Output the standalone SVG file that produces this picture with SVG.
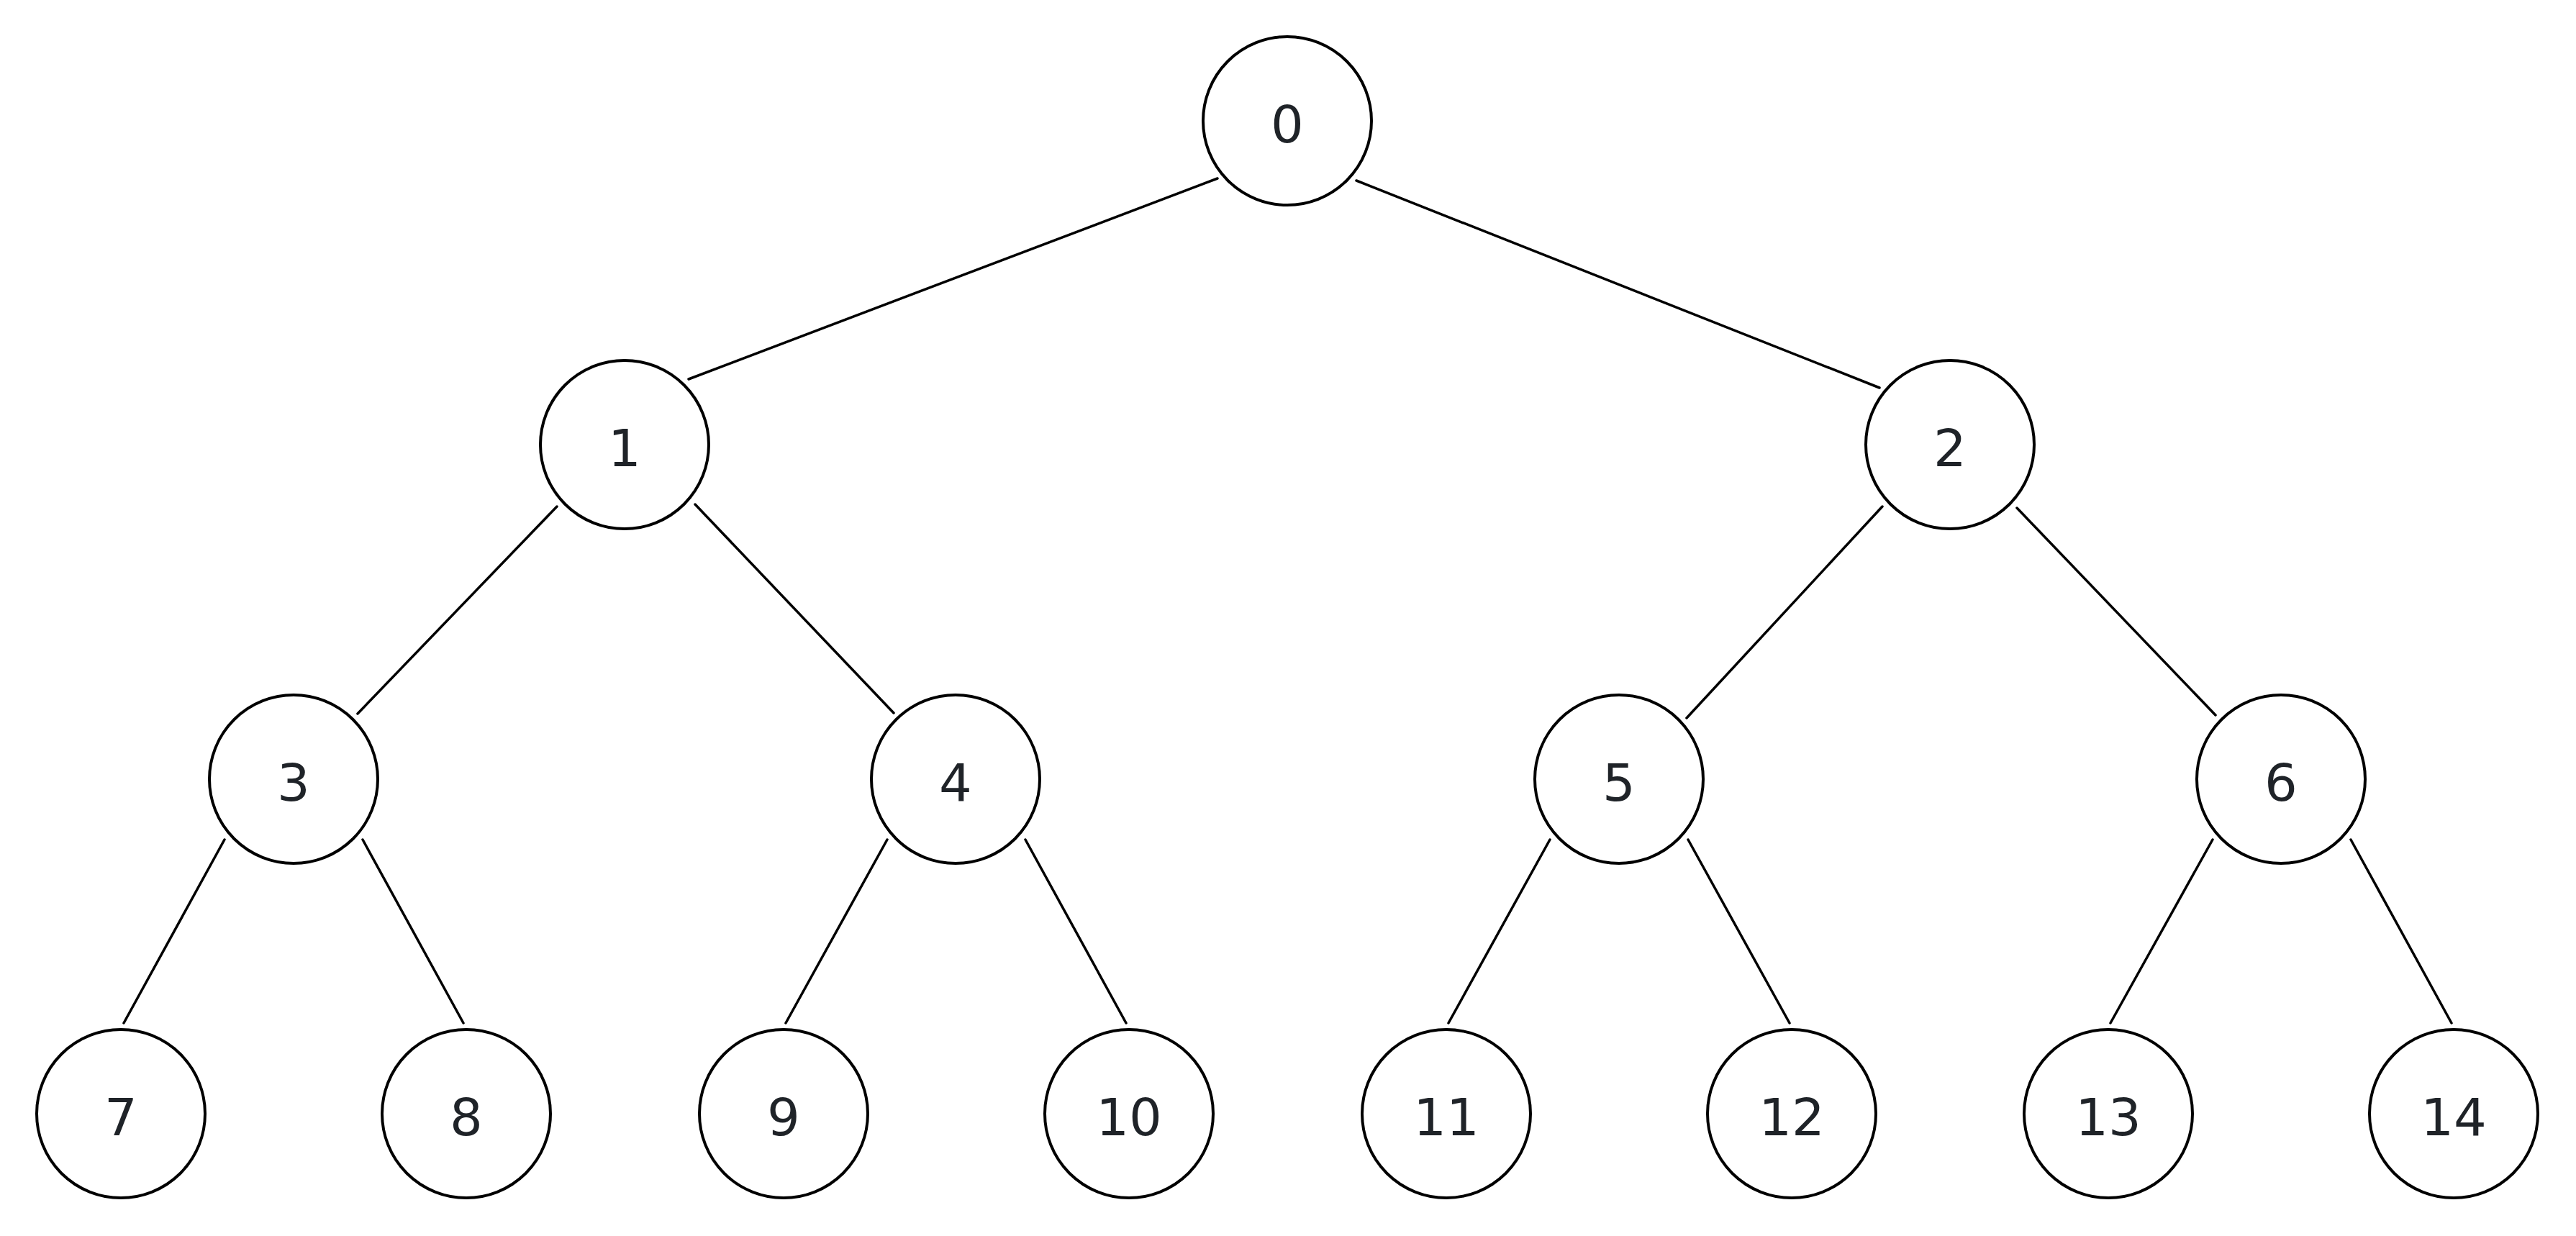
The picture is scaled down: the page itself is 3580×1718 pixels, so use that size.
<svg xmlns="http://www.w3.org/2000/svg" width="3580" height="1718" viewBox="0 0 3580 1718">
<style>
.node circle{fill:#ffffff;stroke:#000000;stroke-width:4}
.node text{font-family:"DejaVu Sans","Liberation Sans",sans-serif;font-size:72px;fill:#1f2328;text-anchor:middle}
.edges line{stroke:#000000;stroke-width:3.5;stroke-linecap:round}
</style>
<rect x="0" y="0" width="3580" height="1718" fill="#ffffff"/>
<g id="edges" class="edges">
<line x1="1692" y1="248" x2="957" y2="527"/>
<line x1="1885" y1="251" x2="2612" y2="539"/>
<line x1="774" y1="704" x2="497" y2="992"/>
<line x1="966" y1="701" x2="1242" y2="991"/>
<line x1="2616" y1="704" x2="2344" y2="998"/>
<line x1="2803" y1="706" x2="3079" y2="994"/>
<line x1="312" y1="1167" x2="172" y2="1422"/>
<line x1="504" y1="1167" x2="644" y2="1422"/>
<line x1="1233" y1="1167" x2="1092" y2="1422"/>
<line x1="1425" y1="1167" x2="1565" y2="1422"/>
<line x1="2154" y1="1167" x2="2013" y2="1422"/>
<line x1="2346" y1="1167" x2="2487" y2="1422"/>
<line x1="3075" y1="1167" x2="2933" y2="1422"/>
<line x1="3267" y1="1167" x2="3407" y2="1422"/>
</g>
<g id="node0" class="node"><circle cx="1789" cy="168" r="117"/><text x="1789" y="198">0</text></g>
<g id="node1" class="node"><circle cx="868" cy="618" r="117"/><text x="868" y="648">1</text></g>
<g id="node2" class="node"><circle cx="2710" cy="618" r="117"/><text x="2710" y="648">2</text></g>
<g id="node3" class="node"><circle cx="408" cy="1083" r="117"/><text x="408" y="1113">3</text></g>
<g id="node4" class="node"><circle cx="1328" cy="1083" r="117"/><text x="1328" y="1113">4</text></g>
<g id="node5" class="node"><circle cx="2250" cy="1083" r="117"/><text x="2250" y="1113">5</text></g>
<g id="node6" class="node"><circle cx="3170" cy="1083" r="117"/><text x="3170" y="1113">6</text></g>
<g id="node7" class="node"><circle cx="168" cy="1548" r="117"/><text x="168" y="1578">7</text></g>
<g id="node8" class="node"><circle cx="648" cy="1548" r="117"/><text x="648" y="1578">8</text></g>
<g id="node9" class="node"><circle cx="1089" cy="1548" r="117"/><text x="1089" y="1578">9</text></g>
<g id="node10" class="node"><circle cx="1569" cy="1548" r="117"/><text x="1569" y="1578">10</text></g>
<g id="node11" class="node"><circle cx="2010" cy="1548" r="117"/><text x="2010" y="1578">11</text></g>
<g id="node12" class="node"><circle cx="2490" cy="1548" r="117"/><text x="2490" y="1578">12</text></g>
<g id="node13" class="node"><circle cx="2930" cy="1548" r="117"/><text x="2930" y="1578">13</text></g>
<g id="node14" class="node"><circle cx="3410" cy="1548" r="117"/><text x="3410" y="1578">14</text></g>
</svg>
